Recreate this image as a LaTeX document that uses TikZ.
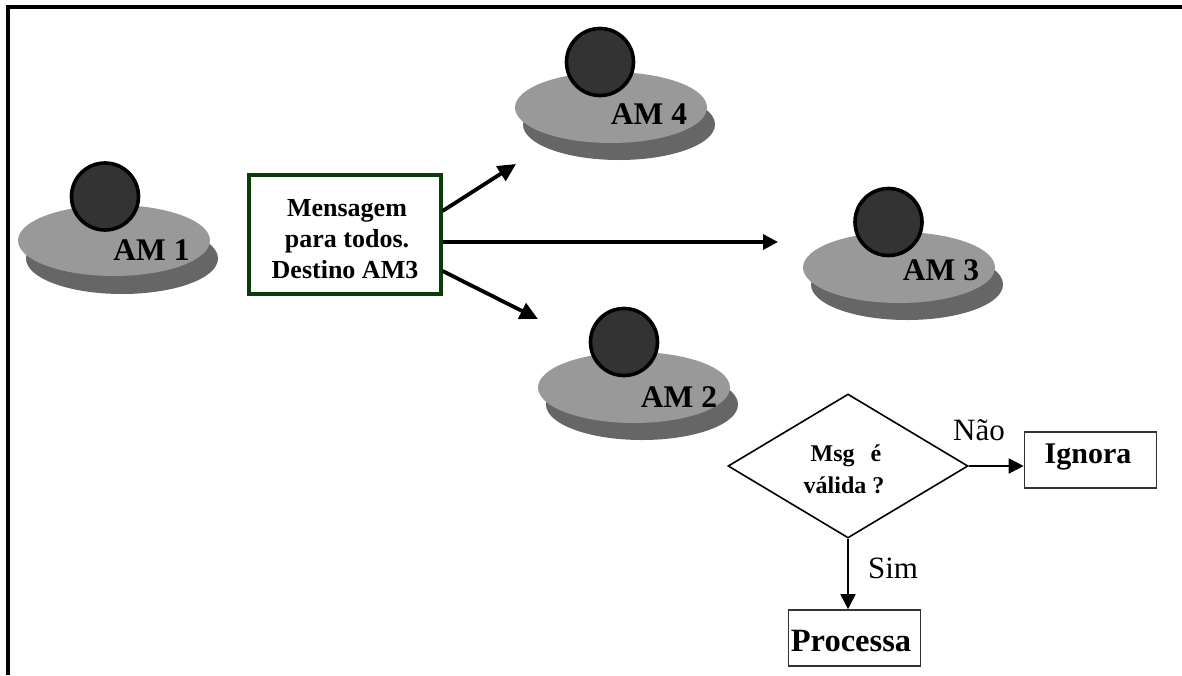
\documentclass[tikz,border=0pt]{standalone}
\usepackage{fontspec}
\setmainfont{Liberation Serif}
\usetikzlibrary{shapes.geometric,arrows.meta}
\definecolor{discc}{gray}{0.6}
\definecolor{shadc}{gray}{0.4}
\definecolor{ballc}{gray}{0.2}
\definecolor{boxg}{RGB}{10,60,10}
\tikzset{
  x=1pt,y=-1pt,
  shade disc/.style={draw=none,fill=shadc,ellipse,minimum width=192pt,minimum height=71pt,inner sep=0pt},
  top disc/.style={draw=none,fill=discc,ellipse,minimum width=192pt,minimum height=71pt,inner sep=0pt},
  ball/.style={draw=black,line width=3.6pt,fill=ballc,circle,minimum size=67pt,inner sep=0pt},
  amlabel/.style={inner sep=0pt,anchor=base,font=\bfseries\fontsize{31.5}{31.5}\selectfont},
  thick arrow/.style={draw=black,line width=3.4pt,-{Triangle[length=15pt,width=15pt]}},
  slant arrow/.style={draw=black,line width=3.8pt,-{Triangle[length=18pt,width=17pt]}},
  thin arrow/.style={draw=black,line width=1.7pt,-{Triangle[length=15pt,width=15pt]}},
  flow box/.style={draw=black!80,line width=1.6pt,rectangle,inner sep=0pt,minimum width=132pt,minimum height=56pt,fill=white},
  plain label/.style={inner sep=0pt,anchor=base,font=\fontsize{31}{31}\selectfont},
  box label/.style={inner sep=0pt,anchor=base,font=\bfseries\fontsize{30}{30}\selectfont},
  small bold/.style={inner sep=0pt,anchor=base,font=\bfseries\fontsize{24}{24}\selectfont},
  msg bold/.style={inner sep=0pt,anchor=base,font=\bfseries\fontsize{26}{26}\selectfont},
}
\begin{document}
\begin{tikzpicture}
\useasboundingbox (0,0) rectangle (1182,675);
\draw[black,line width=4pt,line cap=butt] (8,675) -- (8,6.5) -- (1182,6.5);
% AM 1
\node[shade disc] (s1) at (122,258.5) {};
\node[top disc] (d1) at (114,240.5) {};
\node[ball] (b1) at (105,196.5) {};
\node[amlabel] (t1) at (151.5,260) {AM 1};
% AM 4
\node[shade disc] (s4) at (619,124.5) {};
\node[top disc] (d4) at (611,107.5) {};
\node[ball] (b4) at (600,62) {};
\node[amlabel] (t4) at (649,124) {AM 4};
% AM 3
\node[shade disc] (s3) at (907,284.5) {};
\node[top disc] (d3) at (899,267.5) {};
\node[ball] (b3) at (888.5,222) {};
\node[amlabel] (t3) at (941,280) {AM 3};
% AM 2
\node[shade disc] (s2) at (642,404.5) {};
\node[top disc] (d2) at (634,387.5) {};
\node[ball] (b2) at (624,342) {};
\node[amlabel] (t2) at (679,407) {AM 2};
% message box
\node[draw=boxg,line width=3.2pt,fill=white,minimum width=192pt,minimum height=119pt,inner sep=0pt] (box) at (345,234.5) {};
\node[msg bold] (m1) at (347,216) {Mensagem};
\node[msg bold] (m2) at (347,247) {para todos.};
\node[msg bold] (m3) at (345,278) {Destino AM3};
\coordinate (e4) at (516,164);
\coordinate (e3) at (778,242);
\coordinate (e2) at (538,319);
\draw[slant arrow] ([yshift=23.5pt]box.east) -- (e4);
\draw[thick arrow] ([yshift=-7.5pt]box.east) -- (e3);
\draw[slant arrow] ([yshift=-36.5pt]box.east) -- (e2);
% flow
\node[diamond,draw=black,line width=1.6pt,aspect=1.667,minimum width=240pt,minimum height=144pt,inner sep=0pt] (dia) at (848,466) {};
\node[small bold] (q1) at (846,461) {Msg\ \ \,é};
\node[small bold] (q2) at (844,493) {válida ?};
\node[flow box] (ign) at (1090.5,460) {};
\node[flow box] (pro) at (854.5,638) {};
\node[box label] (ignt) at (1088,463) {Ignora};
\node[box label,font=\bfseries\fontsize{32.5}{32.5}\selectfont] (prot) at (851,651) {Processa};
\draw[thin arrow] (dia.east) -- (dia.east -| ign.west);
\draw[thin arrow] (dia.south) -- (dia.south |- pro.north);
\node[plain label] (nao) at (979,440) {Não};
\node[plain label] (sim) at (893,578) {Sim};
\end{tikzpicture}
\end{document}
